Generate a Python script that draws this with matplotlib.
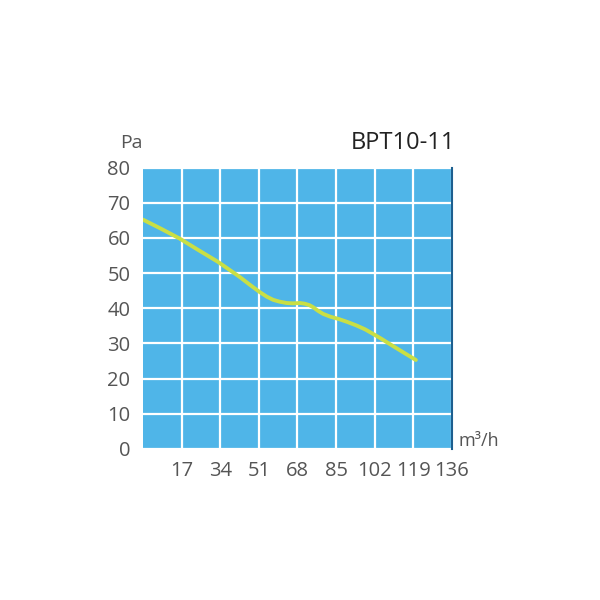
import matplotlib
matplotlib.use("Agg")
import matplotlib.pyplot as plt

# airflow (m3/h) vs pressure (Pa)
flow = [0, 8, 16.2, 24, 33.0, 42.6, 47, 51.4, 54.5, 57.3, 60, 63.2, 66, 69.0, 71.2, 73.2, 74.9,
        77, 79.3, 82.5, 85.9, 90, 94.0, 97.8, 101.3, 105, 108.7, 114.5, 120.1]
pressure = [65.2, 62.6, 59.8, 56.7, 53.2, 48.9, 46.7, 44.6, 43.3, 42.4, 41.9, 41.5, 41.4, 41.5, 41.3,
            40.9, 40.3, 39.3, 38.4, 37.6, 37.0, 36.1, 35.1, 34.0, 32.7, 31.3, 29.8, 27.5, 25.3]

x_ticks = [17, 34, 51, 68, 85, 102, 119, 136]
y_ticks = [0, 10, 20, 30, 40, 50, 60, 70, 80]
model = "BPT10-11"

plt.rcParams['font.family'] = ['Open Sans', 'DejaVu Sans']
txt_col = '#555555'

fig = plt.figure(figsize=(6, 6), dpi=100)
ax = fig.add_axes([0.2383, 0.2517, 0.515, 0.469])
ax.set_facecolor('#4fb5e8')

ax.set_xlim(0, 136)
ax.set_ylim(0, 80)
ax.set_xticks(x_ticks)
ax.set_yticks(y_ticks)
ax.grid(True, color='white', linewidth=1.6)
ax.set_axisbelow(True)

ax.plot(flow, pressure, color='#c9df45', linewidth=2.8,
        solid_capstyle='round', solid_joinstyle='round')

for s in ['left', 'top', 'bottom']:
    ax.spines[s].set_visible(False)
ax.spines['right'].set_color('#1d5f8f')
ax.spines['right'].set_linewidth(1.5)

ax.tick_params(axis='both', length=0, labelsize=14.5, colors=txt_col)
ax.tick_params(axis='x', pad=9)
ax.tick_params(axis='y', pad=9)

fig.text(0.2, 0.762, "Pa", fontsize=14, color=txt_col, va='center', ha='left')
fig.text(0.758, 0.762, model, fontsize=17, color='#222222', va='center', ha='right')
fig.text(0.764, 0.265, "m³/h", fontsize=13, color=txt_col, va='center', ha='left')

fig.savefig("out.png", dpi=100)
